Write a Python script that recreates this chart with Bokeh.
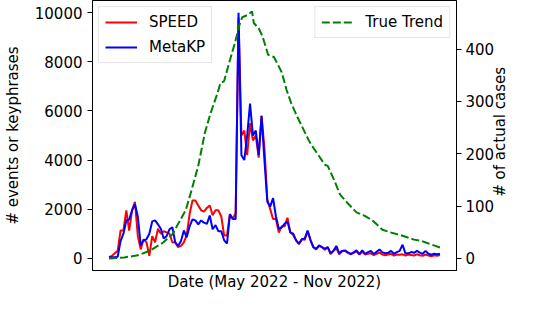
import math
from bokeh.plotting import figure
from bokeh.models import LinearAxis, Range1d, FixedTicker, Legend
from bokeh.embed import file_html
from bokeh.resources import INLINE

# day index (3-day steps across May 2022 - Nov 2022)
days = list(range(116))

speed = [40, 100, 200, 300, 1130, 1130, 1950, 1130, 1950, 2300,
         900, 360, 770, 650, 100, 900, 650, 1200, 1000, 1100,
         1050, 1000, 650, 650, 450, 500, 650, 950, 1800, 2350,
         2350, 2150, 1950, 1900, 2050, 2150, 1750, 1950, 1950, 1700,
         930, 930, 1800, 1600, 1850, 9800, 5000, 5200, 4200, 5500,
         4800, 5000, 4100, 5800, 4500, 2400, 2000, 1600, 1600, 1050,
         1300, 1300, 1650, 1050, 950, 730, 570, 770, 750, 1100,
         730, 450, 360, 500, 450, 350, 450, 170, 300, 400,
         160, 280, 300, 220, 160, 220, 280, 150, 260, 150,
         180, 200, 130, 180, 230, 150, 120, 150, 180, 110,
         150, 140, 160, 110, 150, 130, 110, 160, 120, 100,
         150, 110, 80, 120, 100, 130]

metakp = [40, 40, 40, 60, 700, 1000, 1540, 1580, 1950, 2200,
          1700, 530, 730, 770, 1000, 1500, 1540, 1380, 1200, 800,
          900, 1180, 1260, 650, 500, 700, 1130, 850, 1300, 1580,
          1540, 1380, 1540, 1450, 1400, 1740, 1180, 1350, 1100, 1100,
          730, 600, 1780, 1600, 1600, 10000, 4200, 4000, 5000, 6300,
          5000, 5200, 4200, 5800, 4000, 2300, 2100, 2450, 1700, 1200,
          1260, 1400, 1500, 1050, 1000, 730, 600, 770, 800, 1130,
          750, 450, 380, 520, 450, 380, 450, 200, 300, 500,
          200, 300, 320, 240, 180, 240, 320, 170, 320, 180,
          250, 300, 170, 260, 360, 240, 200, 220, 300, 180,
          250, 300, 550, 200, 200, 250, 220, 300, 230, 180,
          300, 180, 140, 180, 160, 180]

trend_days = [0, 5.3, 10, 14.3, 18.7, 22, 24.3, 26.7, 28.7, 31,
              33.3, 35.3, 37.7, 38.7, 40, 42, 43.7, 45.3, 46.3, 48,
              49.7, 50.3, 52, 53.3, 55.3, 57.3, 60, 61.7, 63.3, 65.3,
              67, 69.3, 70.3, 72.7, 75, 76, 78.3, 80.3, 82.7, 86,
              88.7, 91.7, 95, 97.7, 101.7, 106, 108.3, 110.3, 115]
trend = [0, 2, 6, 15, 30, 46, 69, 93, 131, 177,
         240, 278, 316, 335, 339, 379, 411, 446, 461, 465,
         472, 450, 440, 425, 389, 385, 356, 322, 297, 272,
         253, 227, 217, 198, 179, 177, 149, 122, 107, 88,
         82, 72, 55, 50, 44, 36, 34, 30, 21]

left_ticks = [0, 2000, 4000, 6000, 8000, 10000]
right_ticks = [0, 100, 200, 300, 400]
x_title = "Date (May 2022 - Nov 2022)"
left_title = "# events or keyphrases"
right_title = "# of actual cases"

FONT = "DejaVu Sans"
FS = "15px"

p = figure(width=521, height=293,
           x_range=Range1d(-5.75, 120.75), y_range=Range1d(-500, 10500),
           output_backend="svg", toolbar_location=None,
           min_border_left=89, min_border_top=0, min_border_right=0, min_border_bottom=0)
p.extra_y_ranges = {"cases": Range1d(-23, 493)}
p.grid.visible = False
p.outline_line_color = "black"
p.outline_line_width = 1
p.outline_line_alpha = 1
p.background_fill_color = "white"

# x axis: no ticks, title carried as a single centred label
xmid = 57.5
xa = p.xaxis[0]
xa.ticker = FixedTicker(ticks=[xmid])
xa.major_label_overrides = {xmid: x_title}
xa.major_tick_out = 0
xa.major_tick_in = 0
xa.major_label_standoff = 2

# left axis
ya = p.yaxis[0]
ya.ticker = FixedTicker(ticks=left_ticks)
ya.axis_label = left_title
ya.axis_label_standoff = 10
ya.major_tick_out = 5
ya.major_tick_in = 0

# right axis with ticks
ra = LinearAxis(y_range_name="cases", ticker=FixedTicker(ticks=right_ticks))
ra.major_tick_out = 5
ra.major_tick_in = 0
ra.major_label_standoff = 4
p.add_layout(ra, "right")

# outer right "axis" carrying the rotated title (reads bottom-to-top)
ymid = 118
ra2 = LinearAxis(y_range_name="cases", ticker=FixedTicker(ticks=[ymid]),
                 major_label_overrides={ymid: right_title},
                 major_label_orientation=math.pi / 2)
ra2.axis_line_color = None
ra2.major_tick_line_color = None
ra2.major_tick_out = 0
ra2.major_tick_in = 0
ra2.major_label_standoff = 3
p.add_layout(ra2, "right")

for ax in [xa, ya, ra, ra2]:
    ax.axis_label_text_font = FONT
    ax.axis_label_text_font_size = FS
    ax.axis_label_text_font_style = "normal"
    ax.axis_label_text_color = "black"
    ax.major_label_text_font = FONT
    ax.major_label_text_color = "black"
    ax.major_label_text_font_size = FS
    ax.minor_tick_line_color = None
for ax in [xa, ra2]:
    ax.major_label_text_line_height = 1.0
for ax in [xa, ya, ra]:
    ax.axis_line_color = "black"
    ax.major_tick_line_color = "black"

r1 = p.line(days, speed, line_color="red", line_width=2)
r2 = p.line(days, metakp, line_color="blue", line_width=2)
r3 = p.line(trend_days, trend, y_range_name="cases", line_color="green",
            line_width=2, line_dash="8 3")

def style(leg):
    leg.label_text_font = FONT
    leg.label_text_font_size = FS
    leg.label_text_color = "black"
    leg.glyph_width = 32
    leg.glyph_height = 16
    leg.label_height = 16
    leg.label_standoff = 12
    leg.spacing = 7
    leg.padding = 6
    leg.margin = 6
    leg.border_line_color = "#cccccc"
    leg.border_line_width = 1
    leg.background_fill_color = "white"
    leg.background_fill_alpha = 0.8

leg1 = Legend(items=[("SPEED", [r1]), ("MetaKP", [r2])], location="top_left")
leg2 = Legend(items=[("True Trend", [r3])], location="top_right")
style(leg1)
style(leg2)
p.add_layout(leg1)
p.add_layout(leg2)

open("out.html", "w").write(file_html(p, INLINE))
